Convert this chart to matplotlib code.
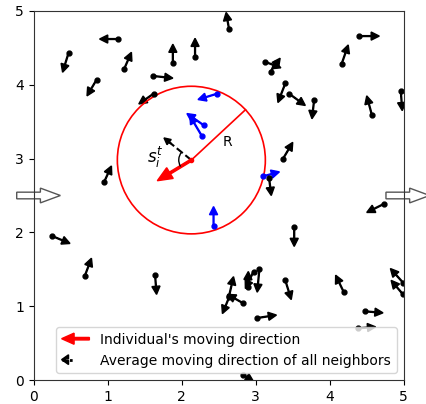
import numpy as np
import matplotlib
matplotlib.use('Agg')
import matplotlib.pyplot as plt
import matplotlib.patches as mpatches
from matplotlib.lines import Line2D
from matplotlib.legend_handler import HandlerPatch, HandlerTuple

# Other individuals (tail point and head point)
tail_x = [1.135, 0.47, 1.22, 1.88, 2.18, 0.85, 1.61, 1.62, 0.95,
          2.64, 4.40, 4.16, 3.13, 3.20, 3.40, 3.45, 3.79, 4.57, 4.96,
          3.37, 3.18, 4.74, 3.52, 3.05, 2.97, 2.89, 2.83, 2.64, 2.64,
          3.40, 3.02, 4.19, 4.48, 4.99, 4.99, 4.38, 2.83,
          0.25, 0.69, 1.64]
tail_y = [4.62, 4.43, 4.21, 4.30, 4.38, 4.07, 4.12, 3.88, 2.68,
          4.75, 4.66, 4.28, 4.31, 4.18, 4.02, 3.88, 3.80, 3.59, 3.92,
          3.00, 2.74, 2.39, 2.07, 1.51, 1.47, 1.26, 1.04, 1.14, 1.12,
          1.35, 0.84, 1.19, 0.93, 1.32, 1.16, 0.70, 0.07,
          1.95, 1.41, 1.42]
head_x = [0.89, 0.39, 1.32, 1.88, 2.18, 0.72, 1.88, 1.42, 1.05,
          2.60, 4.67, 4.25, 3.34, 3.33, 3.30, 3.67, 3.76, 4.50, 4.98,
          3.50, 3.21, 4.50, 3.52, 3.02, 2.86, 2.90, 2.62, 2.70, 2.55,
          3.48, 3.28, 4.08, 4.72, 4.82, 4.83, 4.62, 2.97,
          0.49, 0.78, 1.66]
head_y = [4.62, 4.17, 4.44, 4.55, 4.63, 3.85, 4.09, 3.74, 2.90,
          4.98, 4.66, 4.54, 4.23, 4.36, 3.76, 3.72, 3.54, 3.85, 3.65,
          3.22, 2.50, 2.27, 1.81, 1.19, 1.24, 1.47, 1.16, 1.40, 0.90,
          1.09, 0.88, 1.42, 0.91, 1.51, 1.35, 0.72, -0.02,
          1.85, 1.65, 1.16]

# Neighbors inside the perception radius
nb_tail_x = [2.48, 2.30, 2.27, 3.10, 2.43]
nb_tail_y = [3.88, 3.45, 3.31, 2.76, 2.09]
nb_head_x = [2.22, 2.07, 2.11, 3.32, 2.43]
nb_head_y = [3.80, 3.61, 3.58, 2.82, 2.35]

# Focal individual
center = (2.13, 2.98)
R = 1.0
own_head = (1.67, 2.70)
avg_head = (1.76, 3.28)

fig = plt.figure(figsize=(4.27, 4.04), dpi=100)
ax = fig.add_axes([0.079, 0.0594, 0.8665, 0.9134])


def draw_arrow(x0, y0, x1, y1, color):
    ax.arrow(x0, y0, x1 - x0, y1 - y0, width=0.012, head_width=0.11,
             head_length=0.11, length_includes_head=True, color=color)
    ax.plot(x0, y0, 'o', color=color, markersize=3.5)


for x0, y0, x1, y1 in zip(tail_x, tail_y, head_x, head_y):
    draw_arrow(x0, y0, x1, y1, 'black')

for x0, y0, x1, y1 in zip(nb_tail_x, nb_tail_y, nb_head_x, nb_head_y):
    draw_arrow(x0, y0, x1, y1, 'blue')

# perception circle and radius
ax.add_patch(mpatches.Circle(center, R, fill=False, color='red', lw=1.2))
ang = np.deg2rad(43)
ax.plot([center[0], center[0] + R * np.cos(ang)],
        [center[1], center[1] + R * np.sin(ang)], color='red', lw=1.2)
ax.text(2.62, 3.22, 'R', fontsize=10, ha='center', va='center')

# own direction
ax.arrow(center[0], center[1], own_head[0] - center[0], own_head[1] - center[1],
         width=0.03, head_width=0.17, head_length=0.2,
         length_includes_head=True, color='red')

# average neighbour direction: dashed shaft, small solid head
vx, vy = avg_head[0] - center[0], avg_head[1] - center[1]
ax.plot([center[0], center[0] + 0.8 * vx], [center[1], center[1] + 0.8 * vy],
        color='black', linestyle='--', lw=1.5)
ax.arrow(center[0] + 0.75 * vx, center[1] + 0.75 * vy, 0.25 * vx, 0.25 * vy,
         width=0.01, head_width=0.09, head_length=0.09,
         length_includes_head=True, color='black')
ax.plot(*center, 'o', color='red', markersize=3)
ax.add_patch(mpatches.Arc(center, 0.34, 0.34, theta1=141, theta2=211,
                          color='black', lw=1))
ax.text(1.64, 3.02, r'$s_i^t$', fontsize=12, ha='center', va='center')

# boundary arrows (periodic)
for x in [-0.23, 4.76]:
    ax.add_patch(mpatches.FancyArrow(x, 2.5, 0.59, 0, width=0.09,
                                     head_width=0.2, head_length=0.27,
                                     length_includes_head=True,
                                     facecolor='white', edgecolor='#555555',
                                     lw=1, clip_on=False))

ax.set_xlim(0, 5)
ax.set_ylim(0, 5)
ax.set_xticks([0, 1, 2, 3, 4, 5])
ax.set_yticks([0, 1, 2, 3, 4, 5])
ax.tick_params(labelsize=10)
for s in ax.spines.values():
    s.set_color('#333333')


def red_handle(legend, orig_handle, xdescent, ydescent, width, height, fontsize):
    return mpatches.FancyArrow(width, 0.5 * height, -width, 0, width=1.8,
                               head_width=8, head_length=9,
                               length_includes_head=True)


def black_head(legend, orig_handle, xdescent, ydescent, width, height, fontsize):
    return mpatches.FancyArrow(0.35 * width, 0.5 * height, -0.35 * width, 0,
                               width=1.2, head_width=7, head_length=5,
                               length_includes_head=True)


h_own = mpatches.FancyArrow(0, 0, 1, 0, color='red')
h_head = mpatches.FancyArrow(0, 0, 1, 0, color='black')
h_line = Line2D([], [], color='black', linestyle=':', lw=2)
ax.legend([h_own, (h_line, h_head)],
          ["Individual's moving direction",
           'Average moving direction of all neighbors'],
          loc='lower right', fontsize=10,
          handler_map={h_own: HandlerPatch(patch_func=red_handle),
                       h_head: HandlerPatch(patch_func=black_head),
                       tuple: HandlerTuple(ndivide=None)})

fig.savefig('out.png', dpi=100)
